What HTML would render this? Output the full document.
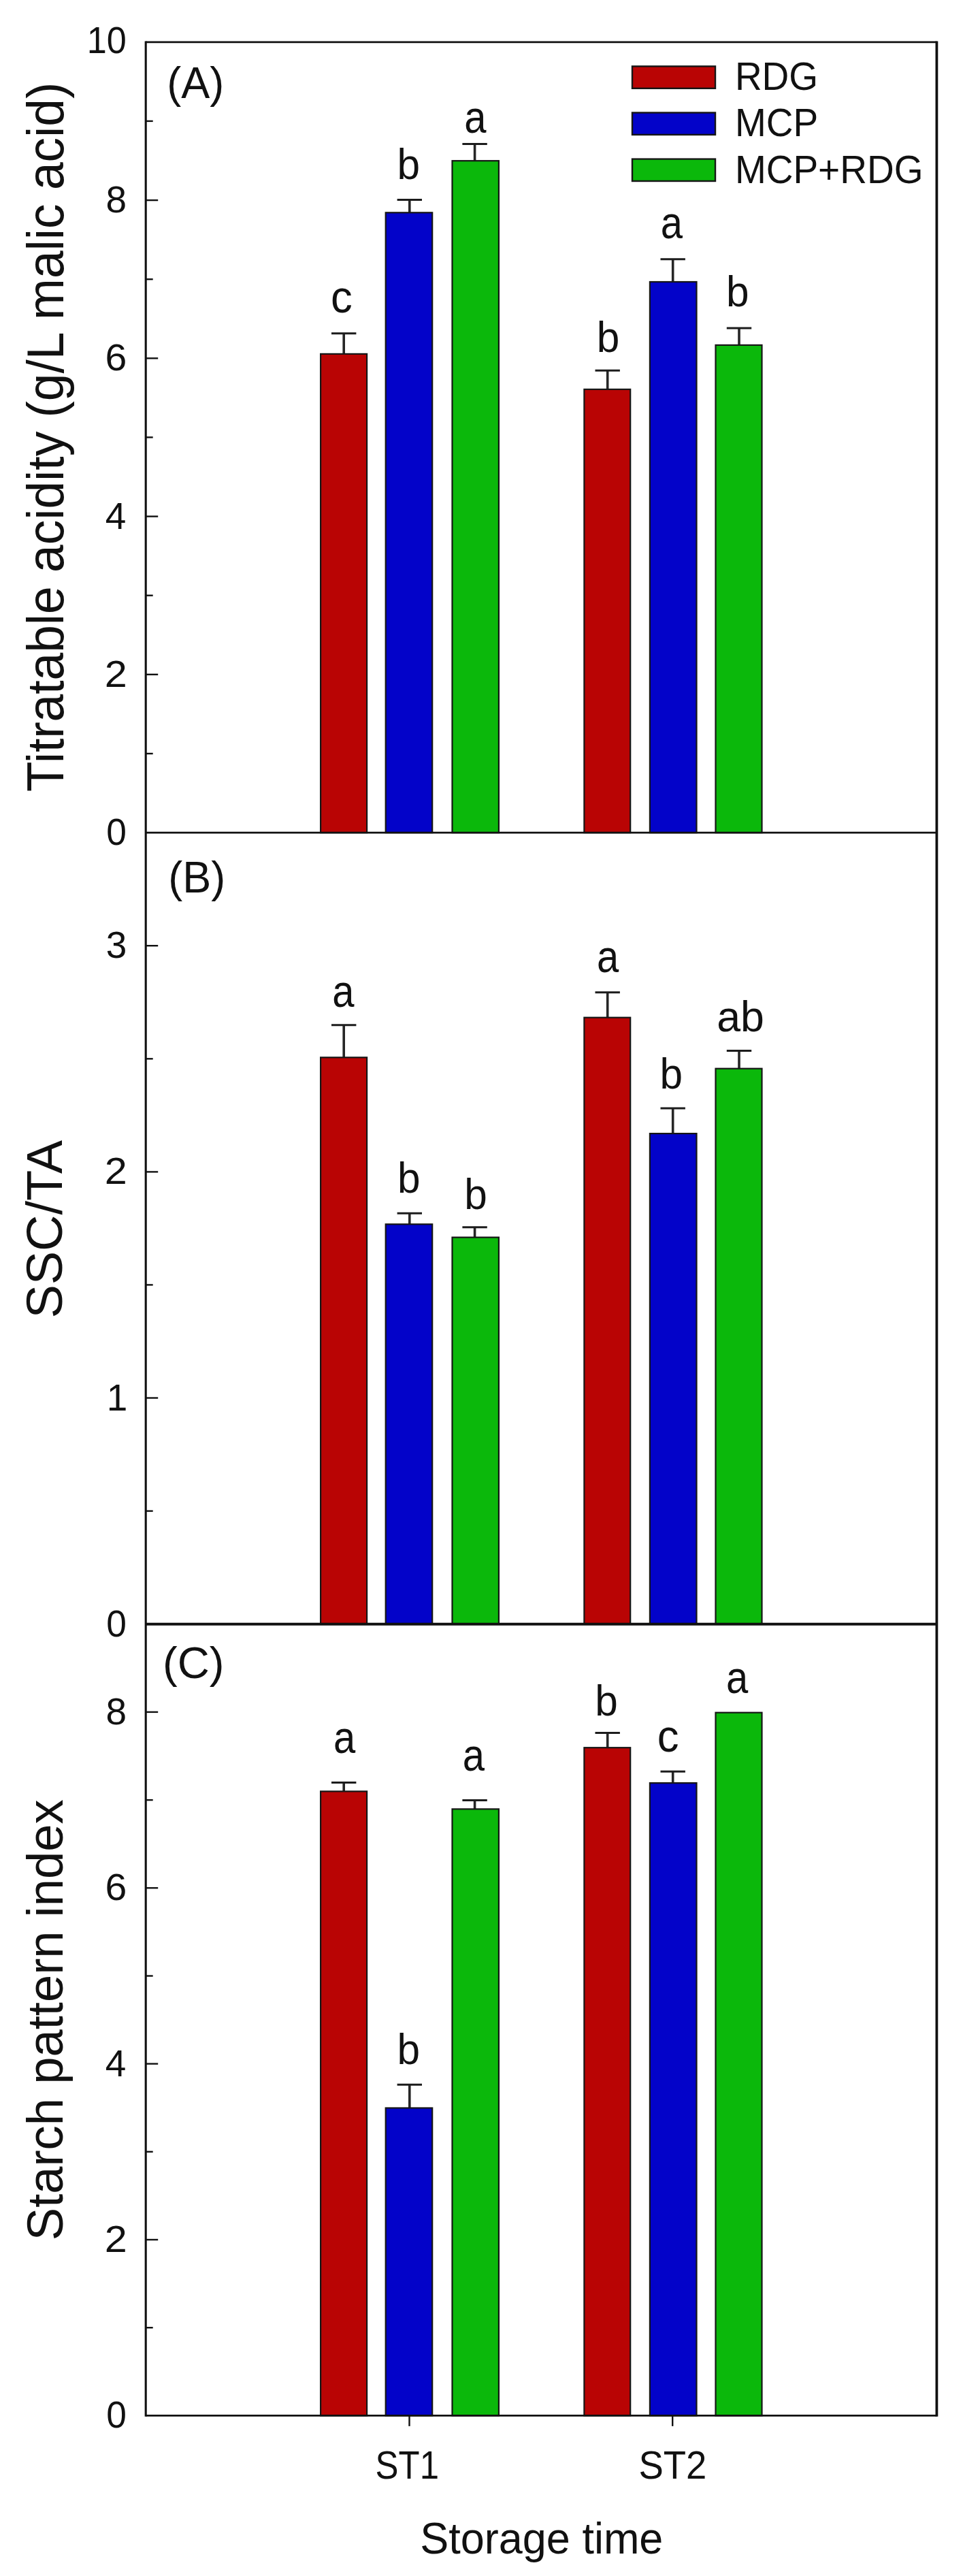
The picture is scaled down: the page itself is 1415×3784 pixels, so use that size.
<!DOCTYPE html>
<html lang="en"><head><meta charset="utf-8"><title>Figure</title>
<style>html,body{margin:0;padding:0;background:#fff}svg{display:block;filter:blur(0.4px)}</style></head>
<body>
<svg width="1415" height="3784" viewBox="0 0 1415 3784" font-family="Liberation Sans, Arial, Helvetica, sans-serif" fill="#111">
<rect x="0" y="0" width="1415" height="3784" fill="#fff"/>
<path d="M505.2 519.8V489.8" stroke="#262626" stroke-width="3.6" fill="none"/><path d="M487.0 489.8H523.4" stroke="#1c1c1c" stroke-width="3.0" fill="none"/>
<rect x="471.10" y="519.90" width="68.00" height="703.20" fill="#b90404" stroke="#161616" stroke-width="2.2"/>
<path d="M601.8 312.2V293.5" stroke="#262626" stroke-width="3.6" fill="none"/><path d="M583.6 293.5H620.0" stroke="#1c1c1c" stroke-width="3.0" fill="none"/>
<rect x="566.70" y="312.30" width="68.50" height="910.80" fill="#0303c9" stroke="#161616" stroke-width="2.2"/>
<path d="M697.6 236.1V211.4" stroke="#262626" stroke-width="3.6" fill="none"/><path d="M679.4 211.4H715.8" stroke="#1c1c1c" stroke-width="3.0" fill="none"/>
<rect x="664.50" y="236.20" width="68.40" height="986.90" fill="#0bb80b" stroke="#161616" stroke-width="2.2"/>
<path d="M892.7 571.8V544.2" stroke="#262626" stroke-width="3.6" fill="none"/><path d="M874.5 544.2H910.9" stroke="#1c1c1c" stroke-width="3.0" fill="none"/>
<rect x="858.40" y="571.90" width="67.80" height="651.20" fill="#b90404" stroke="#161616" stroke-width="2.2"/>
<path d="M988.7 413.9V380.8" stroke="#262626" stroke-width="3.6" fill="none"/><path d="M970.5 380.8H1006.9" stroke="#1c1c1c" stroke-width="3.0" fill="none"/>
<rect x="954.90" y="414.00" width="68.60" height="809.10" fill="#0303c9" stroke="#161616" stroke-width="2.2"/>
<path d="M1086.0 506.8V481.9" stroke="#262626" stroke-width="3.6" fill="none"/><path d="M1067.8 481.9H1104.2" stroke="#1c1c1c" stroke-width="3.0" fill="none"/>
<rect x="1051.50" y="506.90" width="68.00" height="716.20" fill="#0bb80b" stroke="#161616" stroke-width="2.2"/>
<text transform="translate(485.93 459.33) scale(1.040 1.100)" font-size="61">c</text>
<text transform="translate(583.62 263.17) scale(0.990 1.037)" font-size="61">b</text>
<text transform="translate(682.37 194.93) scale(0.950 1.100)" font-size="61">a</text>
<text transform="translate(876.72 516.57) scale(0.990 1.037)" font-size="61">b</text>
<text transform="translate(970.67 350.43) scale(0.950 1.100)" font-size="61">a</text>
<text transform="translate(1067.02 450.47) scale(0.990 1.037)" font-size="61">b</text>
<path d="M505.2 1553.2V1505.8" stroke="#262626" stroke-width="3.6" fill="none"/><path d="M487.0 1505.8H523.4" stroke="#1c1c1c" stroke-width="3.0" fill="none"/>
<rect x="471.10" y="1553.30" width="68.00" height="832.40" fill="#b90404" stroke="#161616" stroke-width="2.2"/>
<path d="M601.8 1798.2V1782.2" stroke="#262626" stroke-width="3.6" fill="none"/><path d="M583.6 1782.2H620.0" stroke="#1c1c1c" stroke-width="3.0" fill="none"/>
<rect x="566.70" y="1798.30" width="68.50" height="587.40" fill="#0303c9" stroke="#161616" stroke-width="2.2"/>
<path d="M697.6 1817.5V1802.7" stroke="#262626" stroke-width="3.6" fill="none"/><path d="M679.4 1802.7H715.8" stroke="#1c1c1c" stroke-width="3.0" fill="none"/>
<rect x="664.50" y="1817.60" width="68.40" height="568.10" fill="#0bb80b" stroke="#161616" stroke-width="2.2"/>
<path d="M892.7 1494.6V1457.8" stroke="#262626" stroke-width="3.6" fill="none"/><path d="M874.5 1457.8H910.9" stroke="#1c1c1c" stroke-width="3.0" fill="none"/>
<rect x="858.40" y="1494.70" width="67.80" height="891.00" fill="#b90404" stroke="#161616" stroke-width="2.2"/>
<path d="M988.7 1665.0V1628.0" stroke="#262626" stroke-width="3.6" fill="none"/><path d="M970.5 1628.0H1006.9" stroke="#1c1c1c" stroke-width="3.0" fill="none"/>
<rect x="954.90" y="1665.10" width="68.60" height="720.60" fill="#0303c9" stroke="#161616" stroke-width="2.2"/>
<path d="M1086.0 1569.6V1543.6" stroke="#262626" stroke-width="3.6" fill="none"/><path d="M1067.8 1543.6H1104.2" stroke="#1c1c1c" stroke-width="3.0" fill="none"/>
<rect x="1051.50" y="1569.70" width="68.00" height="816.00" fill="#0bb80b" stroke="#161616" stroke-width="2.2"/>
<text transform="translate(488.37 1478.63) scale(0.950 1.100)" font-size="61">a</text>
<text transform="translate(584.02 1752.17) scale(0.990 1.037)" font-size="61">b</text>
<text transform="translate(682.22 1776.17) scale(0.990 1.037)" font-size="61">b</text>
<text transform="translate(876.97 1428.03) scale(0.950 1.100)" font-size="61">a</text>
<text transform="translate(969.52 1599.17) scale(0.990 1.037)" font-size="61">b</text>
<text transform="translate(1053.27 1515.07) scale(1.027 1.030)" font-size="61">ab</text>
<path d="M505.2 2631.3V2618.5" stroke="#262626" stroke-width="3.6" fill="none"/><path d="M487.0 2618.5H523.4" stroke="#1c1c1c" stroke-width="3.0" fill="none"/>
<rect x="471.10" y="2631.40" width="68.00" height="917.00" fill="#b90404" stroke="#161616" stroke-width="2.2"/>
<path d="M601.8 3096.4V3062.3" stroke="#262626" stroke-width="3.6" fill="none"/><path d="M583.6 3062.3H620.0" stroke="#1c1c1c" stroke-width="3.0" fill="none"/>
<rect x="566.70" y="3096.50" width="68.50" height="451.90" fill="#0303c9" stroke="#161616" stroke-width="2.2"/>
<path d="M697.6 2657.3V2644.6" stroke="#262626" stroke-width="3.6" fill="none"/><path d="M679.4 2644.6H715.8" stroke="#1c1c1c" stroke-width="3.0" fill="none"/>
<rect x="664.50" y="2657.40" width="68.40" height="891.00" fill="#0bb80b" stroke="#161616" stroke-width="2.2"/>
<path d="M892.7 2567.1V2545.4" stroke="#262626" stroke-width="3.6" fill="none"/><path d="M874.5 2545.4H910.9" stroke="#1c1c1c" stroke-width="3.0" fill="none"/>
<rect x="858.40" y="2567.20" width="67.80" height="981.20" fill="#b90404" stroke="#161616" stroke-width="2.2"/>
<path d="M988.7 2619.0V2602.2" stroke="#262626" stroke-width="3.6" fill="none"/><path d="M970.5 2602.2H1006.9" stroke="#1c1c1c" stroke-width="3.0" fill="none"/>
<rect x="954.90" y="2619.10" width="68.60" height="929.30" fill="#0303c9" stroke="#161616" stroke-width="2.2"/>
<rect x="1051.50" y="2515.70" width="68.00" height="1032.70" fill="#0bb80b" stroke="#161616" stroke-width="2.2"/>
<text transform="translate(489.97 2575.23) scale(0.950 1.100)" font-size="61">a</text>
<text transform="translate(583.52 3031.97) scale(0.990 1.037)" font-size="61">b</text>
<text transform="translate(679.77 2601.23) scale(0.950 1.100)" font-size="61">a</text>
<text transform="translate(874.22 2519.57) scale(0.990 1.037)" font-size="61">b</text>
<text transform="translate(965.73 2573.33) scale(1.040 1.100)" font-size="61">c</text>
<text transform="translate(1066.97 2486.93) scale(0.950 1.100)" font-size="61">a</text>
<g stroke="#111" fill="none">
<line x1="214.2" y1="60.4" x2="214.2" y2="3549.8" stroke-width="3.1"/>
<line x1="1376.4" y1="60.4" x2="1376.4" y2="3549.8" stroke-width="3.8"/>
<line x1="214.2" y1="61.8" x2="1376.4" y2="61.8" stroke-width="2.8"/>
<line x1="214.2" y1="1223.1" x2="1376.4" y2="1223.1" stroke-width="2.8"/>
<line x1="214.2" y1="2385.7" x2="1376.4" y2="2385.7" stroke-width="4.0"/>
<line x1="214.2" y1="3548.4" x2="1376.4" y2="3548.4" stroke-width="2.8"/>
<line x1="214.2" y1="990.8" x2="232.2" y2="990.8" stroke-width="2.4"/>
<line x1="214.2" y1="758.6" x2="232.2" y2="758.6" stroke-width="2.4"/>
<line x1="214.2" y1="526.3" x2="232.2" y2="526.3" stroke-width="2.4"/>
<line x1="214.2" y1="294.1" x2="232.2" y2="294.1" stroke-width="2.4"/>
<line x1="214.2" y1="1107.0" x2="224.7" y2="1107.0" stroke-width="2.4"/>
<line x1="214.2" y1="874.7" x2="224.7" y2="874.7" stroke-width="2.4"/>
<line x1="214.2" y1="642.4" x2="224.7" y2="642.4" stroke-width="2.4"/>
<line x1="214.2" y1="410.2" x2="224.7" y2="410.2" stroke-width="2.4"/>
<line x1="214.2" y1="177.9" x2="224.7" y2="177.9" stroke-width="2.4"/>
<line x1="214.2" y1="2053.5" x2="232.2" y2="2053.5" stroke-width="2.4"/>
<line x1="214.2" y1="1721.4" x2="232.2" y2="1721.4" stroke-width="2.4"/>
<line x1="214.2" y1="1389.2" x2="232.2" y2="1389.2" stroke-width="2.4"/>
<line x1="214.2" y1="2219.6" x2="224.7" y2="2219.6" stroke-width="2.4"/>
<line x1="214.2" y1="1887.4" x2="224.7" y2="1887.4" stroke-width="2.4"/>
<line x1="214.2" y1="1555.3" x2="224.7" y2="1555.3" stroke-width="2.4"/>
<line x1="214.2" y1="3290.0" x2="232.2" y2="3290.0" stroke-width="2.4"/>
<line x1="214.2" y1="3031.6" x2="232.2" y2="3031.6" stroke-width="2.4"/>
<line x1="214.2" y1="2773.3" x2="232.2" y2="2773.3" stroke-width="2.4"/>
<line x1="214.2" y1="2514.9" x2="232.2" y2="2514.9" stroke-width="2.4"/>
<line x1="214.2" y1="3419.2" x2="224.7" y2="3419.2" stroke-width="2.4"/>
<line x1="214.2" y1="3160.8" x2="224.7" y2="3160.8" stroke-width="2.4"/>
<line x1="214.2" y1="2902.5" x2="224.7" y2="2902.5" stroke-width="2.4"/>
<line x1="214.2" y1="2644.1" x2="224.7" y2="2644.1" stroke-width="2.4"/>
<line x1="601.5" y1="3548.4" x2="601.5" y2="3563.9" stroke-width="2.4"/>
<line x1="988.2" y1="3548.4" x2="988.2" y2="3563.9" stroke-width="2.4"/>
</g>
<text transform="translate(156.22 1241.10) scale(0.970 1.010)" font-size="55">0</text>
<text transform="translate(153.74 1008.84) scale(1.080 1.010)" font-size="55">2</text>
<text transform="translate(154.81 776.58) scale(1.000 1.010)" font-size="55">4</text>
<text transform="translate(154.51 544.32) scale(1.040 1.010)" font-size="55">6</text>
<text transform="translate(155.59 312.06) scale(1.000 1.010)" font-size="55">8</text>
<text transform="translate(127.74 77.90) scale(0.950 1.010)" font-size="55">10</text>
<text transform="translate(156.22 2403.70) scale(0.970 1.010)" font-size="55">0</text>
<text transform="translate(156.72 2071.53) scale(1.000 1.010)" font-size="55">1</text>
<text transform="translate(153.74 1739.36) scale(1.080 1.010)" font-size="55">2</text>
<text transform="translate(155.64 1407.19) scale(1.000 1.010)" font-size="55">3</text>
<text transform="translate(156.22 3566.40) scale(0.970 1.010)" font-size="55">0</text>
<text transform="translate(153.74 3308.02) scale(1.080 1.010)" font-size="55">2</text>
<text transform="translate(154.81 3049.64) scale(1.000 1.010)" font-size="55">4</text>
<text transform="translate(154.51 2791.27) scale(1.040 1.010)" font-size="55">6</text>
<text transform="translate(155.59 2532.89) scale(1.000 1.010)" font-size="55">8</text>
<text transform="translate(245.29 144.30) scale(1.000 1.020)" font-size="63">(A)</text>
<text transform="translate(247.19 1310.80) scale(1.000 1.020)" font-size="63">(B)</text>
<text transform="translate(238.96 2464.70) scale(1.035 1.020)" font-size="63">(C)</text>
<text transform="translate(551.56 3641.20) scale(0.935 1.040)" font-size="54.5">ST1</text>
<text transform="translate(938.49 3641.20) scale(1.000 1.040)" font-size="54.5">ST2</text>
<text transform="translate(617.30 3750.50) scale(1.000 1.036)" font-size="63">Storage time</text>
<text transform="translate(93.40 1163.21) rotate(-90) scale(1.000 1.040)" font-size="73.1">Titratable acidity (g/L malic acid)</text>
<text transform="translate(91.20 1936.60) rotate(-90) scale(1.000 1.010)" font-size="74.0">SSC/TA</text>
<text transform="translate(91.80 3291.13) rotate(-90) scale(1.000 1.035)" font-size="72.4">Starch pattern index</text>
<rect x="929.0" y="97.4" width="122.0" height="32.4" fill="#b90404" stroke="#161616" stroke-width="2.4"/>
<text transform="translate(1079.89 131.60) scale(1.000 1.040)" font-size="55">RDG</text>
<rect x="929.0" y="165.5" width="122.0" height="32.4" fill="#0303c9" stroke="#161616" stroke-width="2.4"/>
<text transform="translate(1079.89 200.35) scale(1.000 1.040)" font-size="55">MCP</text>
<rect x="929.0" y="233.6" width="122.0" height="32.4" fill="#0bb80b" stroke="#161616" stroke-width="2.4"/>
<text transform="translate(1079.89 269.10) scale(1.000 1.040)" font-size="55">MCP+RDG</text>
</svg>
</body></html>
